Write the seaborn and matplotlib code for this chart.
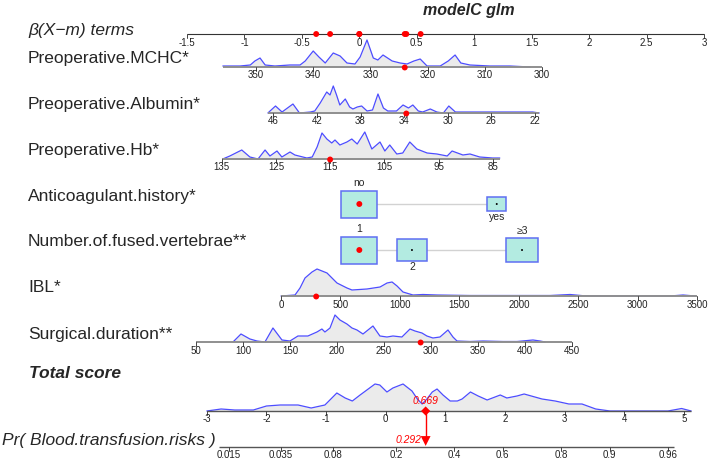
import numpy as np
import pandas as pd
import matplotlib
matplotlib.use("Agg")
import matplotlib.pyplot as plt
from matplotlib.patches import Rectangle
from matplotlib.transforms import blended_transform_factory
import seaborn as sns

sns.set_style("white")
plt.rcParams['font.family'] = ['Liberation Sans', 'DejaVu Sans']

# ---------------- data ----------------
var_names = ["Preoperative.MCHC*", "Preoperative.Albumin*", "Preoperative.Hb*",
             "Anticoagulant.history*", "Number.of.fused.vertebrae**", "IBL*",
             "Surgical.duration**"]

# beta per unit and centring value m for the continuous terms
coef = {"mchc": -0.04979, "alb": -0.09487, "hb": -0.04718, "ibl": 0.001035, "surg": 0.008182}
centre = {"mchc": 331.94, "alb": 38.11, "hb": 109.61, "ibl": 658.8, "surg": 223.8}

# tick values
beta_ticks = [-1.5, -1, -0.5, 0, 0.5, 1, 1.5, 2, 2.5, 3]
mchc_ticks = [350, 340, 330, 320, 310, 300]
alb_ticks = [46, 42, 38, 34, 30, 26, 22]
hb_ticks = [135, 125, 115, 105, 95, 85]
ibl_ticks = [0, 500, 1000, 1500, 2000, 2500, 3000, 3500]
surg_ticks = [50, 100, 150, 200, 250, 300, 350, 400, 450]
total_ticks = [-3, -2, -1, 0, 1, 2, 3, 4, 5]
pr_ticks = [0.015, 0.035, 0.08, 0.2, 0.4, 0.6, 0.8, 0.9, 0.96]
pr_shift = 1.555   # logit(p) = total score - pr_shift

# density profiles (value, relative height)
mchc_x = [355.8, 352.8, 351.0, 350.2, 349.3, 348.4, 346.7, 344.1, 342.3, 341.4, 340.0, 339.0,
          337.9, 336.5, 335.3, 334.1, 332.7, 331.8, 330.6, 329.5, 328.7, 327.8, 326.2, 324.8,
          323.6, 322.4, 321.3, 320.1, 317.8, 316.4, 315.2, 314.2, 312.6, 309.1, 305.6, 302.1]
mchc_d = [1, 1, 2, 6, 9, 2, 1, 2, 2, 6, 16, 10, 4, 14, 11, 4, 3, 10, 27, 9, 7, 12, 6, 4,
          3, 6, 8, 1, 1, 6, 12, 4, 2, 1, 1, 0]

alb_x = [46.5, 45.8, 45.2, 44.2, 43.6, 42.6, 42.2, 41.7, 41.1, 40.8, 40.5, 40.2, 39.9, 39.4,
         39.0, 38.7, 38.3, 37.9, 37.4, 36.9, 36.4, 35.9, 35.5, 34.7, 34.1, 33.6, 33.2, 32.7,
         32.3, 31.6, 31.0, 30.4, 29.9, 29.3, 28.2, 26.4, 24.3, 22.2, 21.6]
alb_d = [0, 7, 1, 9, 0, 1, 2, 10, 21, 18, 27, 18, 8, 14, 6, 4, 6, 7, 2, 3, 19, 5, 2, 2, 8,
         5, 8, 2, 1, 4, 1, 0, 7, 1, 1, 1, 1, 1, 0]

hb_x = [134.8, 133.5, 131.3, 129.8, 128.3, 127.0, 126.1, 124.8, 123.9, 122.4, 121.5, 119.3,
        118.3, 117.4, 116.5, 115.6, 114.7, 114.1, 113.2, 111.9, 111.0, 110.0, 108.6, 107.3,
        105.8, 104.9, 104.0, 102.7, 101.6, 100.3, 99.0, 97.1, 95.3, 93.4, 92.5, 90.5, 89.2,
        87.4, 85.0, 83.7]
hb_d = [0, 3, 9, 2, 0, 9, 3, 8, 2, 7, 4, 1, 2, 12, 26, 20, 16, 19, 14, 17, 20, 15, 27, 10,
        17, 8, 14, 5, 6, 17, 10, 6, 5, 3, 8, 4, 5, 2, 1, 1]

ibl_x = [0, 118, 160, 202, 261, 303, 345, 387, 471, 555, 597, 723, 833, 892, 934, 976, 1026,
         1110, 1194, 1312, 1590, 2010, 2262, 2431, 2540, 2683, 3272, 3381, 3482]
ibl_d = [0, 1, 8, 18, 24, 27, 25, 23, 13, 8, 6, 7, 9, 13, 14, 10, 4, 1, 1.5, 1, 0.5, 0.5,
         0.5, 1.5, 0.3, 0, 0, 1, 0]

surg_x = [89.4, 97.9, 107.4, 114.9, 123.4, 131.9, 141.5, 150.0, 158.5, 169.1, 178.7, 184.0,
          187.2, 192.6, 197.9, 203.2, 210.6, 216.0, 221.3, 227.7, 238.3, 245.7, 253.2, 259.6,
          269.1, 277.7, 283.0, 290.4, 295.7, 302.1, 309.6, 318.1, 323.4, 327.7, 341.5, 355.3,
          376.6, 391.5, 408.5, 416.0, 421.3]
surg_d = [0, 8, 3, 1, 0, 14, 2, 1, 6, 6, 10, 13, 10, 14, 27, 22, 18, 14, 12, 8, 16, 6, 5, 6,
          5, 13, 11, 9, 6, 4, 5, 12, 5, 1, 0.5, 1, 0.5, 0.5, 2, 1, 0]

total_x = [-3.0, -2.76, -2.53, -2.22, -2.0, -1.77, -1.47, -1.25, -1.02, -0.82, -0.68, -0.56,
           -0.43, -0.18, -0.10, 0.02, 0.12, 0.29, 0.44, 0.53, 0.61, 0.69, 0.78, 0.86, 0.96,
           1.08, 1.20, 1.28, 1.42, 1.55, 1.70, 1.92, 2.03, 2.20, 2.32, 2.62, 2.84, 3.07, 3.29,
           3.52, 3.76, 4.73, 4.96, 5.12]
total_d = [0, 2, 1, 1, 5, 6, 6, 3, 6, 18, 13, 10, 16, 27, 26, 19, 23, 27, 20, 12, 7, 12, 19,
           22, 16, 10, 10, 12, 19, 15, 11, 16, 13, 15, 17, 12, 10, 7, 7, 2, 0, 0, 2.5, 0]

# categorical terms: levels, beta, relative frequency
antic_levels = ["no", "yes"]
antic_beta = [0.0, 1.196]
antic_freq = [0.78, 0.22]
fused_levels = ["1", "2", "≥3"]
fused_beta = [0.0, 0.458, 1.416]
fused_freq = [0.40, 0.28, 0.32]

# the observation shown in red
obs = {"mchc": 324, "alb": 33.8, "hb": 115, "antic": "no", "fused": "1", "ibl": 296, "surg": 289}
obs_total = 0.669
obs_pr = 0.292

# ---------------- layout ----------------
W, H = 708, 459
PX = 114.89        # pixels per beta unit
X0 = 359.33        # pixel column of beta = 0
T0, TPX = 385.75, 59.65   # total score axis: pixel of 0, pixels per unit
row = {"title": 10, "beta": 34, "mchc": 67, "alb": 113, "hb": 159, "antic": 204,
       "fused": 250, "ibl": 296, "surg": 342, "total": 411, "pr": 447}
DENS_H = 27
AXIS_C = "#8f8f8f"
LINE_C = "#4d4dff"
FILL_C = "#ebebeb"
DOT_S = 18

fig = plt.figure(figsize=(W / 100, H / 100), dpi=100)
ax = fig.add_axes([0, 0, 1, 1])
lab_tr = blended_transform_factory(ax.transAxes, ax.transData)


def term(key, v):
    return coef[key] * (np.asarray(v, float) - centre[key])


def tot_pos(s):
    return (T0 - X0) / PX + np.asarray(s, float) * TPX / PX


def draw_axis(y, pos, labels, extra=None, color=AXIS_C, lw=1.4):
    xs = list(pos) + (list(extra) if extra is not None else [])
    ax.plot([min(xs), max(xs)], [y, y], color=color, lw=lw, solid_capstyle="butt", zorder=3)
    for p, lab in zip(pos, labels):
        ax.plot([p, p], [y, y + 3.5], color="#444444", lw=0.7, zorder=3)
        ax.text(p, y + 3.5, lab, ha="center", va="top", fontsize=7, color="#222222")


def draw_density(y, pos, dens):
    h = np.asarray(dens, float) / max(dens) * DENS_H
    ax.fill_between(pos, y, y - h, color=FILL_C, lw=0, zorder=1)
    sns.lineplot(x=pos, y=y - h, color=LINE_C, lw=0.9, ax=ax, sort=False,
                 estimator=None, zorder=2)


def fmt(v):
    return "%g" % v


# title and beta scale
ax.text(tot_pos(0.0) + 0.72, row["title"], "modelC glm", ha="center", va="center",
        fontsize=11.5, fontweight="bold", fontstyle="italic")
ax.text(28 / W, row["beta"] - 4, "β(X−m) terms", transform=lab_tr, ha="left", va="center",
        fontsize=12.5, fontstyle="italic")
draw_axis(row["beta"], beta_ticks, [fmt(t) for t in beta_ticks], color="#333333", lw=0.8)

# continuous terms
cont = [("mchc", mchc_ticks, mchc_x, mchc_d), ("alb", alb_ticks, alb_x, alb_d),
        ("hb", hb_ticks, hb_x, hb_d), ("ibl", ibl_ticks, ibl_x, ibl_d),
        ("surg", surg_ticks, surg_x, surg_d)]
for key, ticks, dx, dd in cont:
    y = row[key]
    draw_density(y, term(key, dx), dd)
    draw_axis(y, term(key, ticks), [fmt(t) for t in ticks], extra=term(key, dx))
    sns.scatterplot(x=[float(term(key, obs[key]))], y=[y + 0.5], color="red", s=DOT_S,
                    edgecolor="none", ax=ax, zorder=5)

# categorical terms
for key, levels, betas, freq, sides in [
        ("antic", antic_levels, antic_beta, antic_freq, ["top", "bottom"]),
        ("fused", fused_levels, fused_beta, fused_freq, ["top", "bottom", "top"])]:
    y = row[key]
    ax.plot([min(betas), max(betas)], [y, y], color="#d2d2d2", lw=1.0, zorder=1)
    fmax = max(freq)
    for lev, b, f, side in zip(levels, betas, freq, sides):
        s = np.sqrt(f / fmax)
        w, h = 36 * s / PX, 27 * s
        ax.add_patch(Rectangle((b - w / 2, y - h / 2), w, h, facecolor="#b3ebe1",
                               edgecolor="#5f6ff2", lw=1.1, zorder=2))
        if lev == obs[key]:
            sns.scatterplot(x=[b], y=[y], color="red", s=DOT_S, edgecolor="none", ax=ax, zorder=5)
        else:
            sns.scatterplot(x=[b], y=[y], color="black", s=2, edgecolor="none", ax=ax, zorder=5)
        if side == "top":
            ax.text(b, y - h / 2 - 2, lev, ha="center", va="bottom", fontsize=7.5)
        else:
            ax.text(b, y + h / 2 + 1, lev, ha="center", va="top", fontsize=7.5)

# red dots on the beta scale
contrib = [term(k, obs[k]) for k in ["mchc", "alb", "hb", "ibl", "surg"]]
contrib += [antic_beta[antic_levels.index(obs["antic"])],
            fused_beta[fused_levels.index(obs["fused"])]]
sns.scatterplot(x=[float(c) for c in contrib], y=[row["beta"]] * len(contrib), color="red",
                s=DOT_S, edgecolor="none", ax=ax, zorder=5)

# left labels
label_rows = ["mchc", "alb", "hb", "antic", "fused", "ibl", "surg"]
for name, key in zip(var_names, label_rows):
    ax.text(28 / W, row[key] - 8, name, transform=lab_tr, ha="left", va="center", fontsize=12.5)

# total score
ax.text(29 / W, row["total"] - 38, "Total score", transform=lab_tr, ha="left", va="center",
        fontsize=12.5, fontweight="bold", fontstyle="italic")
draw_density(row["total"], tot_pos(total_x), total_d)
draw_axis(row["total"], tot_pos(total_ticks), [fmt(t) for t in total_ticks],
          extra=tot_pos(total_x), color="#555555", lw=1.0)

# probability scale
pr_scores = np.log(np.array(pr_ticks) / (1 - np.array(pr_ticks))) + pr_shift
ax.text(2 / W, row["pr"] - 6, "Pr( Blood.transfusion.risks )", transform=lab_tr, ha="left",
        va="center", fontsize=12.5, fontstyle="italic")
draw_axis(row["pr"], tot_pos(pr_scores), [fmt(t) for t in pr_ticks],
          extra=[tot_pos(pr_scores[0]) - 10 / PX, tot_pos(pr_scores[-1]) + 6 / PX],
          color="#555555", lw=1.0)

# red arrow for the observation
xo = float(tot_pos(obs_total))
ax.plot([xo, xo], [row["total"], row["pr"] - 6], color="red", lw=1.0, zorder=5)
sns.scatterplot(x=[xo], y=[row["total"]], color="red", marker="D", s=22, edgecolor="none",
                ax=ax, zorder=6)
sns.scatterplot(x=[xo], y=[row["pr"] - 6], color="red", marker="v", s=50, edgecolor="none",
                ax=ax, zorder=6)
ax.text(xo, row["total"] - 5, "%.3f" % obs_total, ha="center", va="bottom", fontsize=7.5,
        color="red", fontstyle="italic")
ax.text(xo - 4 / PX, row["pr"] - 7, "%.3f" % obs_pr, ha="right", va="center", fontsize=7.5,
        color="red", fontstyle="italic")

ax.set_xlim(-X0 / PX, (W - X0) / PX)
ax.set_ylim(H, 0)
ax.axis("off")
fig.savefig("out.png", dpi=100)
